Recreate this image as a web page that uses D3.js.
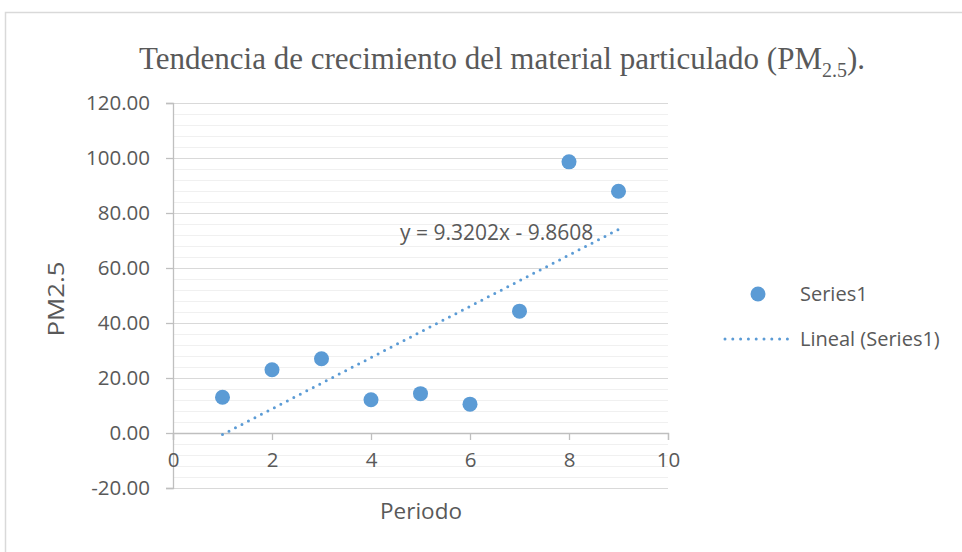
<!DOCTYPE html>
<html>
<head>
<meta charset="utf-8">
<script src="https://cdn.jsdelivr.net/npm/d3@7"></script>
<style>
  html, body { margin: 0; padding: 0; background: #fff; }
  svg { display: block; }
</style>
</head>
<body>
<svg id="chart" width="962" height="552"></svg>
<script>
// Periods and PM2.5 readings
const periods = [1, 2, 3, 4, 5, 6, 7, 8, 9];
const pm25 = [13.0, 23.0, 27.0, 12.1, 14.3, 10.5, 44.3, 98.6, 87.9];
const xTicks = [0, 2, 4, 6, 8, 10];
const yTicks = [-20, 0, 20, 40, 60, 80, 100, 120];
const trendSlope = 9.3202;
const trendIntercept = -9.8608;

const font = "'Open Sans', 'Noto Sans', sans-serif";
const blue = "#5b9bd5";
const textGrey = "#595959";

const svg = d3.select("#chart");

// chart frame
svg.append("rect")
  .attr("x", 5.5).attr("y", 12.5)
  .attr("width", 1000).attr("height", 600)
  .attr("fill", "none").attr("stroke", "#d9d9d9").attr("stroke-width", 1.5);

const x = d3.scaleLinear().domain([0, 10]).range([173, 668]);
const y = d3.scaleLinear().domain([-20, 120]).range([488, 103]);

// minor gridlines every 4 units
const minor = d3.range(-20, 120.01, 4).filter(v => v % 20 !== 0);
svg.append("g").selectAll("line").data(minor).join("line")
  .attr("x1", x(0)).attr("x2", x(10))
  .attr("y1", d => Math.round(y(d)) + 0.5).attr("y2", d => Math.round(y(d)) + 0.5)
  .attr("stroke", "#f0f0f0").attr("stroke-width", 1);

// major gridlines
svg.append("g").selectAll("line").data(yTicks).join("line")
  .attr("x1", x(0)).attr("x2", x(10))
  .attr("y1", d => Math.round(y(d)) + 0.5).attr("y2", d => Math.round(y(d)) + 0.5)
  .attr("stroke", "#d9d9d9").attr("stroke-width", 1);

// y axis (plain hyphen for negatives)
const fmt2 = d => d3.format(".2f")(d).replace("\u2212", "-");
const yAxis = svg.append("g")
  .attr("transform", `translate(${x(0)},0)`)
  .call(d3.axisLeft(y).tickValues(yTicks).tickSize(7).tickPadding(16).tickFormat(fmt2));
yAxis.select(".domain").attr("stroke", "#bfbfbf").attr("stroke-width", 1.3);
yAxis.selectAll(".tick line").attr("stroke", "#bfbfbf").attr("stroke-width", 1.3);
yAxis.selectAll("text")
  .attr("fill", textGrey).style("font-family", font).style("font-size", "20.5px");

// x axis at y = 0
const xAxis = svg.append("g")
  .attr("transform", `translate(0,${y(0)})`)
  .call(d3.axisBottom(x).tickValues(xTicks).tickSize(7).tickPadding(12)
    .tickFormat(d3.format("d")));
xAxis.select(".domain").attr("stroke", "#bfbfbf").attr("stroke-width", 1.3);
xAxis.selectAll(".tick line").attr("stroke", "#bfbfbf").attr("stroke-width", 1.3);
xAxis.selectAll("text")
  .attr("fill", textGrey).style("font-family", font).style("font-size", "20.5px");

// linear trendline
const trend = d3.line().x(d => x(d)).y(d => y(trendSlope * d + trendIntercept));
svg.append("path")
  .datum([periods[0], periods[periods.length - 1]])
  .attr("d", trend)
  .attr("fill", "none").attr("stroke", blue).attr("stroke-width", 3)
  .attr("stroke-linecap", "round").attr("stroke-dasharray", "0 7.3");

// data points
svg.append("g").selectAll("circle").data(periods).join("circle")
  .attr("cx", d => x(d)).attr("cy", (d, i) => y(pm25[i]))
  .attr("r", 7.5).attr("fill", blue);

// trendline equation
svg.append("text")
  .attr("x", 400).attr("y", 240)
  .attr("fill", textGrey).style("font-family", font).style("font-size", "21px")
  .text(`y = ${trendSlope}x - ${Math.abs(trendIntercept)}`);

// title
const title = svg.append("text")
  .attr("x", 502).attr("y", 69).attr("text-anchor", "middle")
  .attr("fill", textGrey)
  .style("font-family", "'Liberation Serif', 'Times New Roman', serif")
  .style("font-size", "31px");
title.append("tspan").text("Tendencia de crecimiento del material particulado (PM");
title.append("tspan").attr("dy", 8).style("font-size", "20px").text("2.5");
title.append("tspan").attr("dy", -8).text(").");

// axis titles
svg.append("text")
  .attr("transform", "translate(64,299) rotate(-90)")
  .attr("text-anchor", "middle")
  .attr("textLength", 75).attr("lengthAdjust", "spacingAndGlyphs")
  .attr("fill", textGrey).style("font-family", font).style("font-size", "21px")
  .text("PM2.5");
svg.append("text")
  .attr("x", 421).attr("y", 519).attr("text-anchor", "middle")
  .attr("fill", textGrey).style("font-family", font).style("font-size", "22.5px")
  .text("Periodo");

// legend
const legend = svg.append("g");
legend.append("circle").attr("cx", 758).attr("cy", 294).attr("r", 7.5).attr("fill", blue);
legend.append("text").attr("x", 800).attr("y", 301)
  .attr("fill", textGrey).style("font-family", font).style("font-size", "20px")
  .text("Series1");
legend.append("line")
  .attr("x1", 725).attr("x2", 788).attr("y1", 339).attr("y2", 339)
  .attr("stroke", blue).attr("stroke-width", 3)
  .attr("stroke-linecap", "round").attr("stroke-dasharray", "0 7.8");
legend.append("text").attr("x", 800).attr("y", 346)
  .attr("fill", textGrey).style("font-family", font).style("font-size", "20px")
  .text("Lineal (Series1)");
</script>
</body>
</html>
